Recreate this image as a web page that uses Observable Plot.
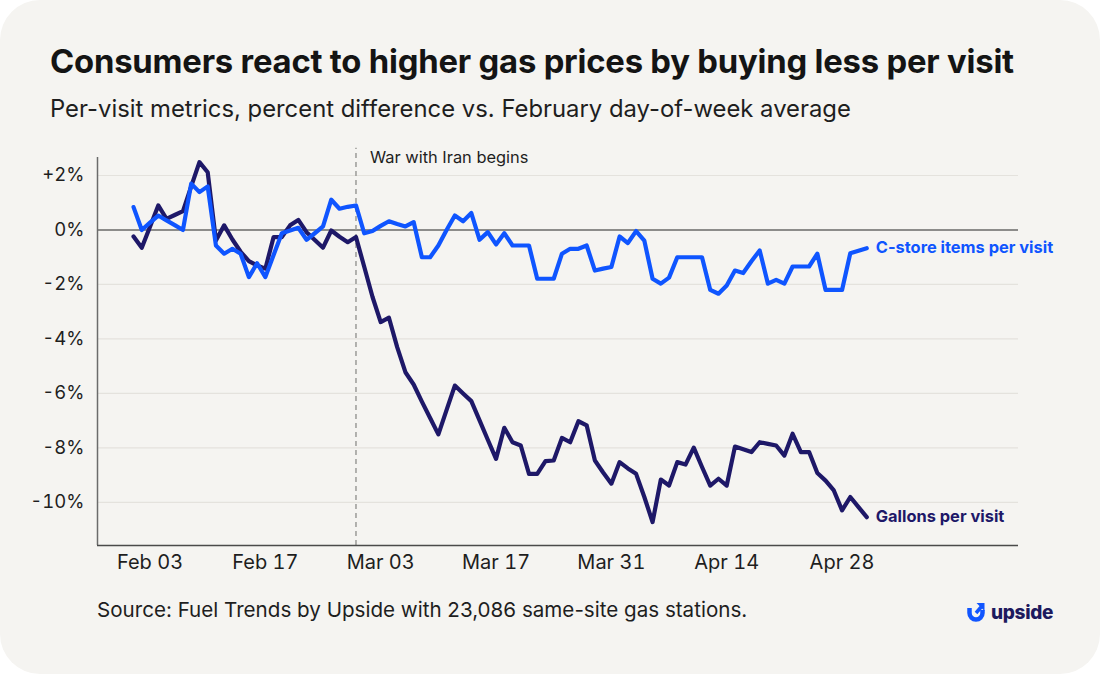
<!DOCTYPE html>
<html>
<head>
<meta charset="utf-8">
<script src="https://cdn.jsdelivr.net/npm/d3@7"></script>
<script src="https://cdn.jsdelivr.net/npm/@observablehq/plot@0.6"></script>
<style>
  html, body { margin: 0; padding: 0; background: #ffffff; }
  body { width: 1100px; height: 674px; overflow: hidden; font-family: Inter, "Noto Sans", sans-serif; }
  #card { position: absolute; left: 0; top: 0; width: 1100px; height: 674px; background: #f5f4f1; border-radius: 40px; }
  .abs { position: absolute; white-space: nowrap; line-height: 1; }
  #title { left: 50px; top: 45px; font-size: 32.8px; font-weight: 700; color: #141414; letter-spacing: -0.2px; }
  #subtitle { left: 50px; top: 97px; font-size: 23.85px; font-weight: 400; color: #1e1e1e; }
  #chart { position: absolute; left: 0; top: 140px; }
  #source { left: 97px; top: 600px; font-size: 20.6px; color: #1e1e1e; }
  #logo { left: 966px; top: 602px; display: flex; align-items: center; gap: 5px; }
  #logo span { font-size: 19px; font-weight: 800; color: #1d1a5e; letter-spacing: -0.3px; }
</style>
</head>
<body>
<div id="card">
  <div id="title" class="abs">Consumers react to higher gas prices by buying less per visit</div>
  <div id="subtitle" class="abs">Per-visit metrics, percent difference vs. February day-of-week average</div>
  <div id="chart"></div>
  <div id="source" class="abs">Source: Fuel Trends by Upside with 23,086 same-site gas stations.</div>
  <div id="logo" class="abs">
    <svg width="20" height="20" viewBox="0 0 20 20">
      <path d="M3.5 6 V11 A6.5 6.5 0 0 0 16.5 11 V8" fill="none" stroke="#1155ff" stroke-width="4.5" stroke-linecap="butt"/>
      <path d="M10.5 1 L18.5 1 L18.5 9 Z" fill="#1155ff"/>
      <path d="M10 11 L16 4" stroke="#1155ff" stroke-width="3.5"/>
    </svg>
    <span>upside</span>
  </div>
</div>
<script>
// ---- data ----
const startDate = "2026-02-01";           // first daily observation
const warDate = "2026-02-28";             // "War with Iran begins"
const warLabel = "War with Iran begins";
const gallonsLabel = "Gallons per visit";
const cstoreLabel = "C-store items per visit";

// percent difference vs. February day-of-week average, daily Feb 1 – May 1
const gallons = [
  -0.24, -0.65, 0.12, 0.9, 0.41, 0.55, 0.69, 1.6, 2.49, 2.12,
  -0.39, 0.17, -0.35, -0.8, -1.14, -1.3, -1.42, -0.26, -0.26, 0.17,
  0.37, -0.08, -0.37, -0.65, -0.02, -0.25, -0.45, -0.26, -1.35, -2.45,
  -3.38, -3.22, -4.3, -5.22, -5.67, -6.3, -6.9, -7.5, -6.6, -5.71,
  -6.0, -6.28, -6.99, -7.7, -8.4, -7.26, -7.79, -7.91, -8.95, -8.95,
  -8.48, -8.46, -7.63, -7.79, -7.02, -7.17, -8.46, -8.9, -9.31, -8.52,
  -8.75, -8.95, -9.8, -10.72, -9.16, -9.38, -8.52, -8.61, -7.99, -8.7,
  -9.38, -9.13, -9.38, -7.95, -8.05, -8.15, -7.79, -7.85, -7.91, -8.28,
  -7.48, -8.15, -8.15, -8.92, -9.2, -9.56, -10.29, -9.8, -10.17, -10.54
];
const cstore = [
  0.84, 0.0, 0.27, 0.53, 0.35, 0.18, 0.0, 1.7, 1.39, 1.6,
  -0.57, -0.87, -0.69, -0.87, -1.73, -1.22, -1.73, -0.92, -0.12, -0.02,
  0.08, -0.36, -0.12, 0.13, 1.11, 0.78, 0.85, 0.9, -0.12, -0.04,
  0.15, 0.32, 0.22, 0.13, 0.29, -1.0, -1.0, -0.57, 0.0, 0.53,
  0.32, 0.62, -0.36, -0.08, -0.53, -0.12, -0.57, -0.57, -0.57, -1.79,
  -1.79, -1.79, -0.87, -0.69, -0.69, -0.57, -1.49, -1.42, -1.36, -0.24,
  -0.48, -0.04, -0.39, -1.79, -1.97, -1.75, -1.0, -1.0, -1.0, -1.0,
  -2.2, -2.34, -2.04, -1.49, -1.58, -1.15, -0.75, -1.97, -1.83, -1.97,
  -1.34, -1.34, -1.34, -0.87, -2.2, -2.2, -2.2, -0.85, -0.76, -0.67
];

const xTicks = ["2026-02-03", "2026-02-17", "2026-03-03", "2026-03-17", "2026-03-31", "2026-04-14", "2026-04-28"];
const yTicks = [2, 0, -2, -4, -6, -8, -10];
const xDomain = ["2026-01-27T15:00Z", "2026-05-19T10:00Z"];
const yDomain = [-11.58, 2.66];

// ---- build table ----
const DAY = 86400000;
const t0 = new Date(startDate + "T00:00Z").getTime();
const rows = [];
gallons.forEach((v, i) => rows.push({date: new Date(t0 + i * DAY), value: v, series: gallonsLabel}));
cstore.forEach((v, i) => rows.push({date: new Date(t0 + i * DAY), value: v, series: cstoreLabel}));
const lastRows = [gallonsLabel, cstoreLabel].map(s => rows.filter(r => r.series === s).at(-1));

const BLUE = "#0f55ff";
const NAVY = "#1e1868";
const colorOf = s => s === gallonsLabel ? NAVY : BLUE;

const x0 = new Date(xDomain[0]), x1 = new Date(xDomain[1]);
const fmtY = d => d > 0 ? `+${d}%` : `${d}%`;

const chart = Plot.plot({
  width: 1100,
  height: 440,
  marginLeft: 97,
  marginRight: 82,
  marginTop: 17,
  marginBottom: 35,
  style: {background: "transparent", fontFamily: "Inter, 'Noto Sans', sans-serif", color: "#1e1e1e"},
  x: {type: "utc", domain: [x0, x1]},
  y: {domain: yDomain},
  marks: [
    Plot.gridY(yTicks, {stroke: "#e4e2dd", strokeOpacity: 1, strokeWidth: 1.2}),
    Plot.ruleY([0], {stroke: "#8c8c8a", strokeWidth: 2.2}),
    Plot.ruleX([new Date(warDate + "T00:00Z")], {y1: yDomain[0], y2: 3.0, stroke: "#9a9a98", strokeWidth: 1.5, strokeDasharray: "5,4"}),
    Plot.text([warLabel], {x: new Date(warDate + "T00:00Z"), y: yDomain[1], text: d => d, textAnchor: "start", dx: 14, dy: 0, fontSize: 16.4, fill: "#1e1e1e"}),
    Plot.ruleX([x0], {stroke: "#6b6b6b", strokeWidth: 1.5}),
    Plot.ruleY([yDomain[0]], {stroke: "#4a4a4a", strokeWidth: 1.6}),
    Plot.axisY(yTicks, {tickSize: 0, tickPadding: 13, tickFormat: fmtY, fontSize: 18.5, label: null, fill: "#1e1e1e"}),
    Plot.axisX(xTicks.map(d => new Date(d + "T00:00Z")), {tickSize: 0, tickPadding: 9, tickFormat: d3.utcFormat("%b %d"), fontSize: 20, label: null, fill: "#1e1e1e"}),
    Plot.line(rows, {x: "date", y: "value", z: "series", stroke: d => colorOf(d.series), strokeWidth: 4.2, strokeLinejoin: "round", strokeLinecap: "round"}),
    Plot.text(lastRows, {x: "date", y: "value", text: "series", fill: d => colorOf(d.series), textAnchor: "start", dx: 9, fontSize: 16.4, fontWeight: 700})
  ]
});
document.getElementById("chart").appendChild(chart);
</script>
</body>
</html>
